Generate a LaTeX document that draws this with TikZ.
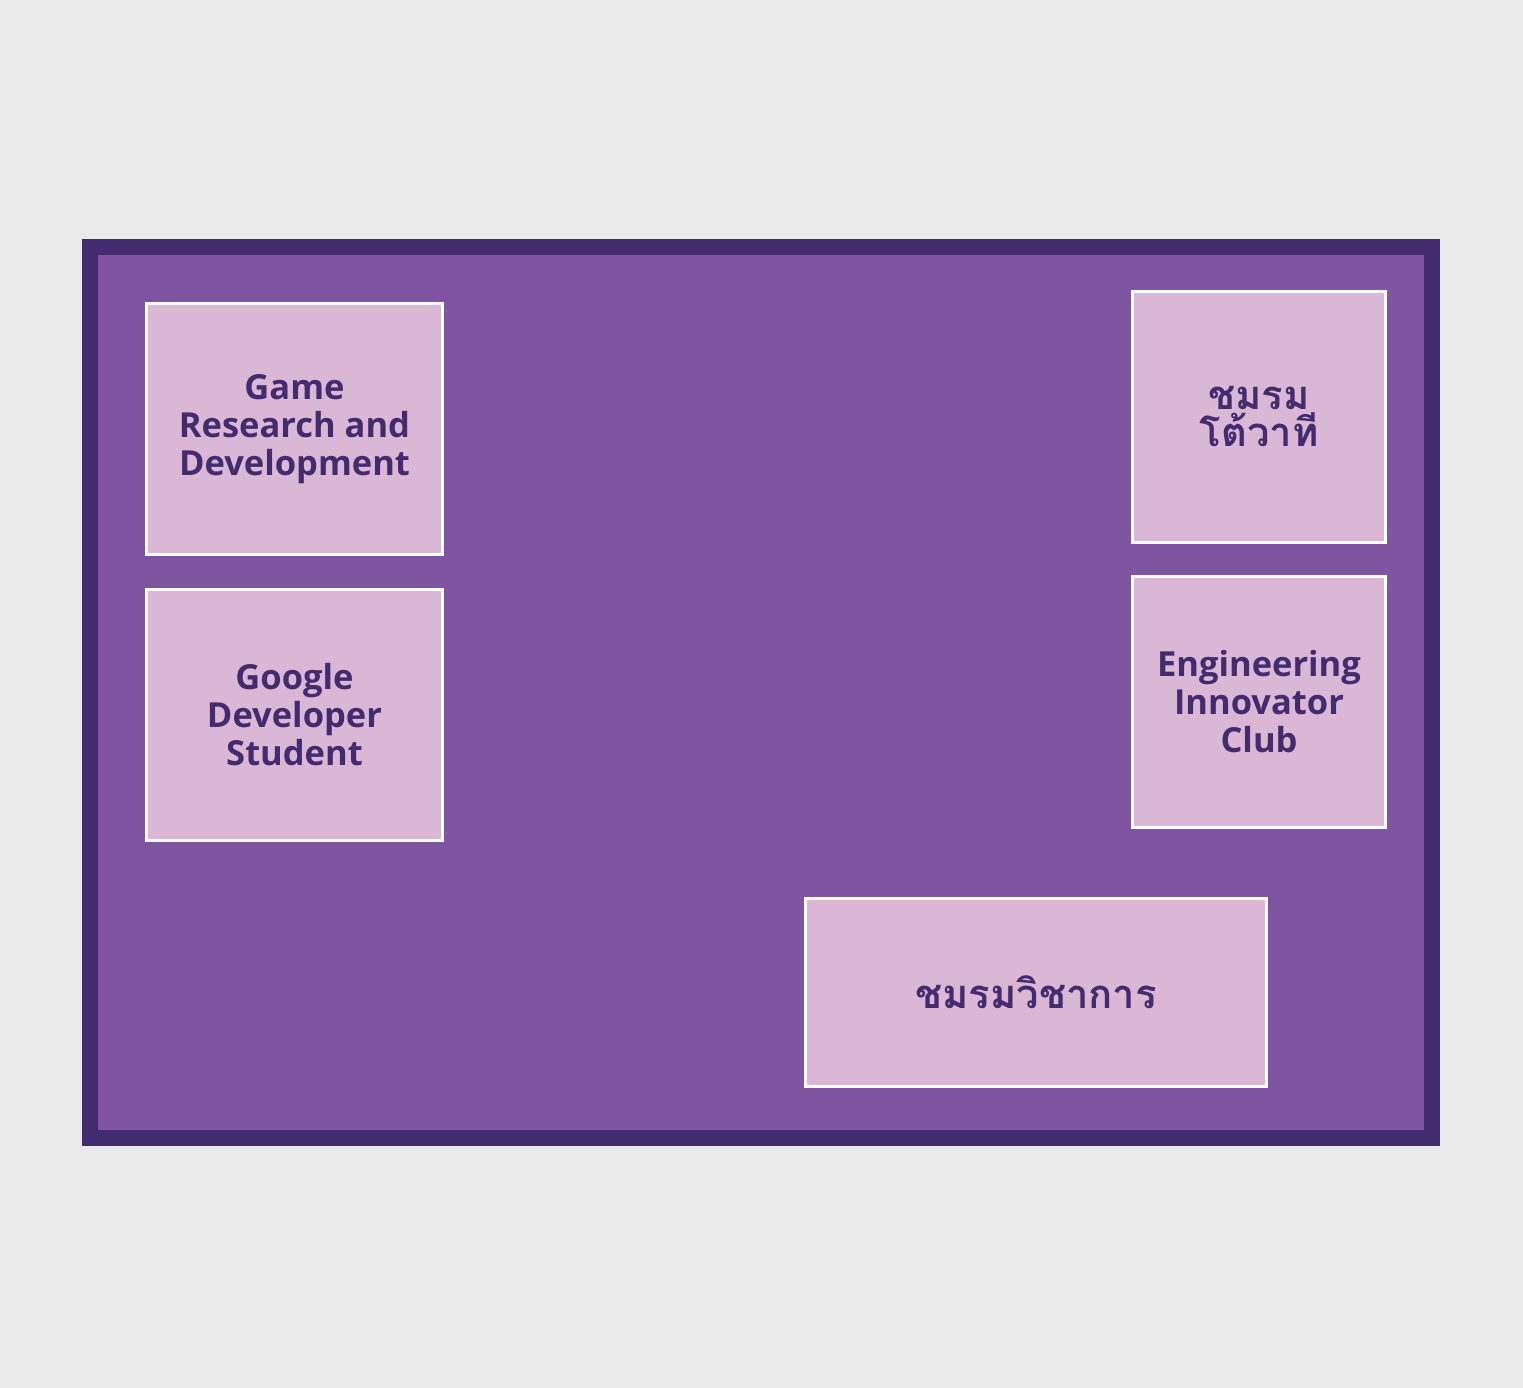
\documentclass[tikz,border=0pt]{standalone}
\usepackage{fontspec}
\setmainfont{Open Sans}
\newfontfamily\thaifont[Script=Thai]{Loma}
\usepackage{tikz}

\definecolor{bggray}{HTML}{EAEAEA}
\definecolor{framepurple}{HTML}{432B6F}
\definecolor{roompurple}{HTML}{7F55A2}
\definecolor{clubpink}{HTML}{DAB7D5}

\begin{document}
\begin{tikzpicture}[x=1pt, y=-1pt,
    clubbox/.style={draw=white, line width=3pt, fill=clubpink, text=framepurple,
      align=center, font=\fontsize{34.5}{38}\selectfont\bfseries, inner sep=0pt},
    thaibox/.style={clubbox, font=\fontsize{40}{37}\selectfont\thaifont\bfseries}]
    \fill[bggray] (0,0) rectangle (1523,1388);
    \draw[line width=16pt, draw=framepurple, fill=roompurple] (90,247) rectangle (1432,1138);

    \node[clubbox, minimum width=296pt, minimum height=251pt] (game) at (294.5,429) {Game\\Research and\\Development};
    \node[clubbox, minimum width=296pt, minimum height=251pt] (gdsc) at (294.5,715) {Google\\Developer\\Student};
    \node[thaibox, minimum width=253pt, minimum height=251pt] (debate) at (1259,417) {ชมรม\\โต้วาที};
    \node[clubbox, minimum width=253pt, minimum height=251pt] (innov) at (1259,702) {Engineering\\Innovator\\Club};
    \node[thaibox, minimum width=461pt, minimum height=188pt] (acad) at (1036,992.5) {ชมรมวิชาการ};

  \end{tikzpicture}
\end{document}
